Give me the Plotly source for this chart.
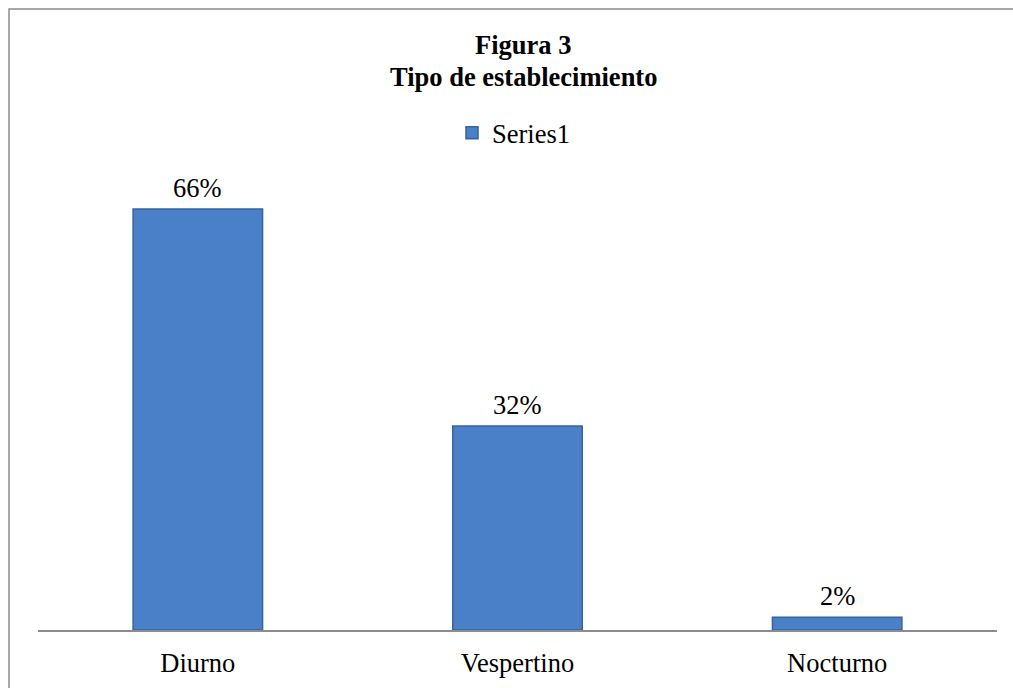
import plotly.graph_objects as go

# Tipo de establecimiento (percent of respondents)
categories = ["Diurno", "Vespertino", "Nocturno"]
values = [66, 32, 2]
labels = ["66%", "32%", "2%"]
series_name = "Series1"
title_line1 = "Figura 3"
title_line2 = "Tipo de establecimiento"

W, H = 1013, 688
L, R, T, B = 38, 16, 160, 58
plot_h = H - T - B
FONT = "Liberation Serif"
FS = 26.5


def py(pix):
    """Convert a pixel row (from the top of the page) to paper y."""
    return (H - B - pix) / plot_h


def px(pix):
    return (pix - L) / (W - L - R)


fig = go.Figure()
fig.add_trace(go.Bar(
    x=categories,
    y=values,
    name=series_name,
    marker=dict(color="#4a80c8", line=dict(color="#34649f", width=1.5)),
    width=0.405,
    showlegend=True,
))

annotations = [
    dict(x=c, y=v, xref="x", yref="y", text=t, showarrow=False,
         yanchor="bottom", yshift=4, font=dict(family=FONT, size=FS, color="#000"))
    for c, v, t in zip(categories, values, labels)
]
annotations += [
    dict(x=px(523), y=py(45), xref="paper", yref="paper", text=f"<b>{title_line1}</b>",
         showarrow=False, yanchor="middle", font=dict(family=FONT, size=FS, color="#000")),
    dict(x=px(523), y=py(77), xref="paper", yref="paper", text=f"<b>{title_line2}</b>",
         showarrow=False, yanchor="middle", font=dict(family=FONT, size=FS, color="#000")),
]

fig.update_layout(
    width=W, height=H,
    margin=dict(l=L, r=R, t=T, b=B, autoexpand=False),
    paper_bgcolor="white", plot_bgcolor="white",
    font=dict(family=FONT, size=FS, color="#000"),
    showlegend=True,
    legend=dict(orientation="h", x=px(514), xanchor="center", y=py(133), yanchor="middle",
                font=dict(family=FONT, size=FS, color="#000"), bgcolor="rgba(0,0,0,0)",
                itemwidth=30),
    annotations=annotations,
    xaxis=dict(showgrid=False, zeroline=False, showline=True, linecolor="#8c8c8c", linewidth=1.5,
               ticks="", tickfont=dict(family=FONT, size=FS, color="#000"), automargin=False,
               ticklabelstandoff=8),
    yaxis=dict(range=[0, 73.7], visible=False, showgrid=False, zeroline=False, fixedrange=True),
    shapes=[dict(type="rect", xref="paper", yref="paper",
                 x0=px(9), x1=px(1030), y0=py(720), y1=py(9),
                 line=dict(color="#8c8c8c", width=1.5), fillcolor="rgba(0,0,0,0)", layer="below")],
)

fig.write_html("out.html")
